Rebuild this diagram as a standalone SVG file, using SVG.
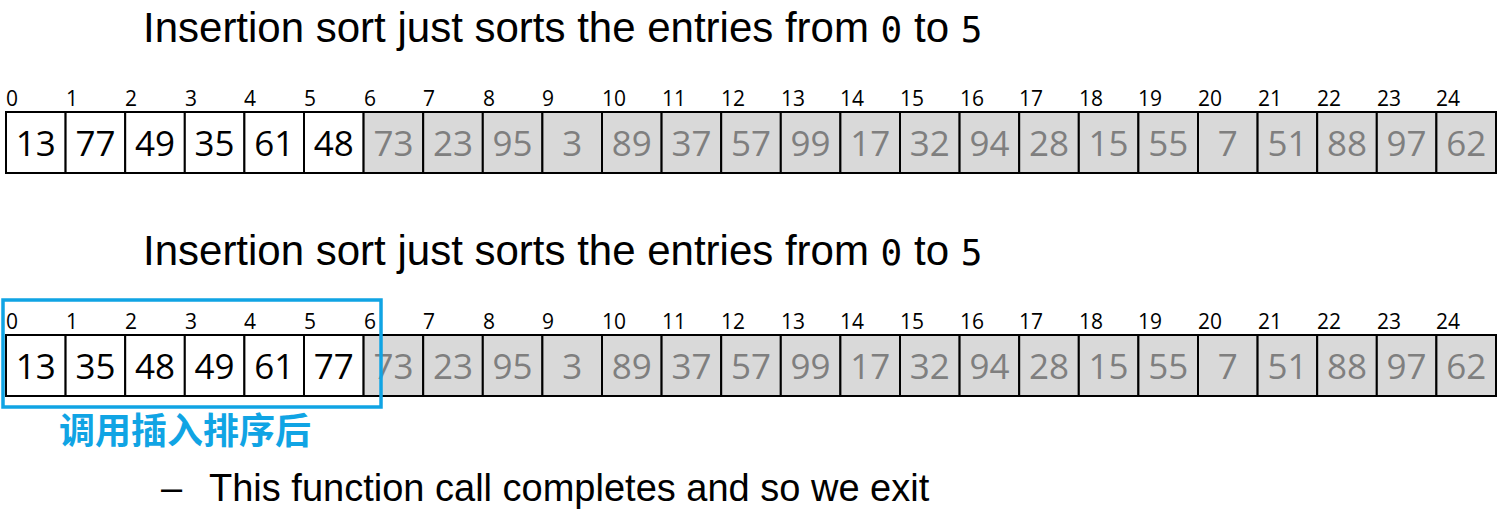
<svg xmlns="http://www.w3.org/2000/svg" width="1503" height="520" viewBox="0 0 1503 520">
<style>
.title{font-family:"Liberation Sans",Arial,sans-serif;font-size:42px;fill:#000}
.body{font-family:"Liberation Sans",Arial,sans-serif;font-size:38px;fill:#000}
.mono{font-family:"DejaVu Sans Mono","Liberation Mono",monospace;font-size:36px}
.idx{font-family:"Open Sans",sans-serif;font-size:21px;fill:#000}
.cell{stroke:#000;stroke-width:2}
.on{fill:#fff}
.off{fill:#d9d9d9}
.v{font-family:"Open Sans",sans-serif;font-size:35px;text-anchor:middle}
.vb{fill:#000}
.vg{fill:#7f7f7f}
.cn{font-family:"Noto Sans CJK SC",sans-serif;font-size:36px;font-weight:bold;fill:#10a4e4}
</style>
<g id="title1"><text class="title" x="143" y="42">Insertion sort just sorts the entries from <tspan class="mono">0</tspan> to <tspan class="mono">5</tspan></text></g>
<g id="array1">
<g class="idx">
<text x="6" y="106">0</text><text x="66" y="106">1</text><text x="125" y="106">2</text><text x="185" y="106">3</text><text x="244" y="106">4</text><text x="304" y="106">5</text><text x="364" y="106">6</text><text x="423" y="106">7</text><text x="483" y="106">8</text><text x="542" y="106">9</text><text x="602" y="106">10</text><text x="662" y="106">11</text><text x="721" y="106">12</text><text x="781" y="106">13</text><text x="840" y="106">14</text><text x="900" y="106">15</text><text x="960" y="106">16</text><text x="1019" y="106">17</text><text x="1079" y="106">18</text><text x="1138" y="106">19</text><text x="1198" y="106">20</text><text x="1258" y="106">21</text><text x="1317" y="106">22</text><text x="1377" y="106">23</text><text x="1436" y="106">24</text>
</g>
<g class="cell">
<rect class="on" x="6" y="112" width="59.6" height="61"/><rect class="on" x="65.6" y="112" width="59.6" height="61"/><rect class="on" x="125.2" y="112" width="59.6" height="61"/><rect class="on" x="184.8" y="112" width="59.6" height="61"/><rect class="on" x="244.4" y="112" width="59.6" height="61"/><rect class="on" x="304" y="112" width="59.6" height="61"/>
<rect class="off" x="363.6" y="112" width="59.6" height="61"/><rect class="off" x="423.2" y="112" width="59.6" height="61"/><rect class="off" x="482.8" y="112" width="59.6" height="61"/><rect class="off" x="542.4" y="112" width="59.6" height="61"/><rect class="off" x="602" y="112" width="59.6" height="61"/><rect class="off" x="661.6" y="112" width="59.6" height="61"/><rect class="off" x="721.2" y="112" width="59.6" height="61"/><rect class="off" x="780.8" y="112" width="59.6" height="61"/><rect class="off" x="840.4" y="112" width="59.6" height="61"/><rect class="off" x="900" y="112" width="59.6" height="61"/><rect class="off" x="959.6" y="112" width="59.6" height="61"/><rect class="off" x="1019.2" y="112" width="59.6" height="61"/><rect class="off" x="1078.8" y="112" width="59.6" height="61"/><rect class="off" x="1138.4" y="112" width="59.6" height="61"/><rect class="off" x="1198" y="112" width="59.6" height="61"/><rect class="off" x="1257.6" y="112" width="59.6" height="61"/><rect class="off" x="1317.2" y="112" width="59.6" height="61"/><rect class="off" x="1376.8" y="112" width="59.6" height="61"/><rect class="off" x="1436.4" y="112" width="59.6" height="61"/>
</g>
<g class="v">
<text class="vb" x="35.8" y="156">13</text><text class="vb" x="95.4" y="156">77</text><text class="vb" x="155" y="156">49</text><text class="vb" x="214.6" y="156">35</text><text class="vb" x="274.2" y="156">61</text><text class="vb" x="333.8" y="156">48</text>
<text class="vg" x="393.4" y="156">73</text><text class="vg" x="453" y="156">23</text><text class="vg" x="512.6" y="156">95</text><text class="vg" x="572.2" y="156">3</text><text class="vg" x="631.8" y="156">89</text><text class="vg" x="691.4" y="156">37</text><text class="vg" x="751" y="156">57</text><text class="vg" x="810.6" y="156">99</text><text class="vg" x="870.2" y="156">17</text><text class="vg" x="929.8" y="156">32</text><text class="vg" x="989.4" y="156">94</text><text class="vg" x="1049" y="156">28</text><text class="vg" x="1108.6" y="156">15</text><text class="vg" x="1168.2" y="156">55</text><text class="vg" x="1227.8" y="156">7</text><text class="vg" x="1287.4" y="156">51</text><text class="vg" x="1347" y="156">88</text><text class="vg" x="1406.6" y="156">97</text><text class="vg" x="1466.2" y="156">62</text>
</g>
</g>
<g id="title2"><text class="title" x="143" y="265">Insertion sort just sorts the entries from <tspan class="mono">0</tspan> to <tspan class="mono">5</tspan></text></g>
<g id="array2">
<g class="idx">
<text x="6" y="329">0</text><text x="66" y="329">1</text><text x="125" y="329">2</text><text x="185" y="329">3</text><text x="244" y="329">4</text><text x="304" y="329">5</text><text x="364" y="329">6</text><text x="423" y="329">7</text><text x="483" y="329">8</text><text x="542" y="329">9</text><text x="602" y="329">10</text><text x="662" y="329">11</text><text x="721" y="329">12</text><text x="781" y="329">13</text><text x="840" y="329">14</text><text x="900" y="329">15</text><text x="960" y="329">16</text><text x="1019" y="329">17</text><text x="1079" y="329">18</text><text x="1138" y="329">19</text><text x="1198" y="329">20</text><text x="1258" y="329">21</text><text x="1317" y="329">22</text><text x="1377" y="329">23</text><text x="1436" y="329">24</text>
</g>
<g class="cell">
<rect class="on" x="6" y="335" width="59.6" height="61"/><rect class="on" x="65.6" y="335" width="59.6" height="61"/><rect class="on" x="125.2" y="335" width="59.6" height="61"/><rect class="on" x="184.8" y="335" width="59.6" height="61"/><rect class="on" x="244.4" y="335" width="59.6" height="61"/><rect class="on" x="304" y="335" width="59.6" height="61"/>
<rect class="off" x="363.6" y="335" width="59.6" height="61"/><rect class="off" x="423.2" y="335" width="59.6" height="61"/><rect class="off" x="482.8" y="335" width="59.6" height="61"/><rect class="off" x="542.4" y="335" width="59.6" height="61"/><rect class="off" x="602" y="335" width="59.6" height="61"/><rect class="off" x="661.6" y="335" width="59.6" height="61"/><rect class="off" x="721.2" y="335" width="59.6" height="61"/><rect class="off" x="780.8" y="335" width="59.6" height="61"/><rect class="off" x="840.4" y="335" width="59.6" height="61"/><rect class="off" x="900" y="335" width="59.6" height="61"/><rect class="off" x="959.6" y="335" width="59.6" height="61"/><rect class="off" x="1019.2" y="335" width="59.6" height="61"/><rect class="off" x="1078.8" y="335" width="59.6" height="61"/><rect class="off" x="1138.4" y="335" width="59.6" height="61"/><rect class="off" x="1198" y="335" width="59.6" height="61"/><rect class="off" x="1257.6" y="335" width="59.6" height="61"/><rect class="off" x="1317.2" y="335" width="59.6" height="61"/><rect class="off" x="1376.8" y="335" width="59.6" height="61"/><rect class="off" x="1436.4" y="335" width="59.6" height="61"/>
</g>
<g class="v">
<text class="vb" x="35.8" y="379">13</text><text class="vb" x="95.4" y="379">35</text><text class="vb" x="155" y="379">48</text><text class="vb" x="214.6" y="379">49</text><text class="vb" x="274.2" y="379">61</text><text class="vb" x="333.8" y="379">77</text>
<text class="vg" x="393.4" y="379">73</text><text class="vg" x="453" y="379">23</text><text class="vg" x="512.6" y="379">95</text><text class="vg" x="572.2" y="379">3</text><text class="vg" x="631.8" y="379">89</text><text class="vg" x="691.4" y="379">37</text><text class="vg" x="751" y="379">57</text><text class="vg" x="810.6" y="379">99</text><text class="vg" x="870.2" y="379">17</text><text class="vg" x="929.8" y="379">32</text><text class="vg" x="989.4" y="379">94</text><text class="vg" x="1049" y="379">28</text><text class="vg" x="1108.6" y="379">15</text><text class="vg" x="1168.2" y="379">55</text><text class="vg" x="1227.8" y="379">7</text><text class="vg" x="1287.4" y="379">51</text><text class="vg" x="1347" y="379">88</text><text class="vg" x="1406.6" y="379">97</text><text class="vg" x="1466.2" y="379">62</text>
</g>
</g>
<g id="highlight">
<rect x="3" y="300" width="378" height="107" fill="none" stroke="#10a4e4" stroke-width="3.5"/>
<text class="cn" x="59" y="444">调用插入排序后</text>
</g>
<g id="bullet"><text class="body" x="161" y="501">–</text><text class="body" x="209" y="501">This function call completes and so we exit</text></g>
</svg>
